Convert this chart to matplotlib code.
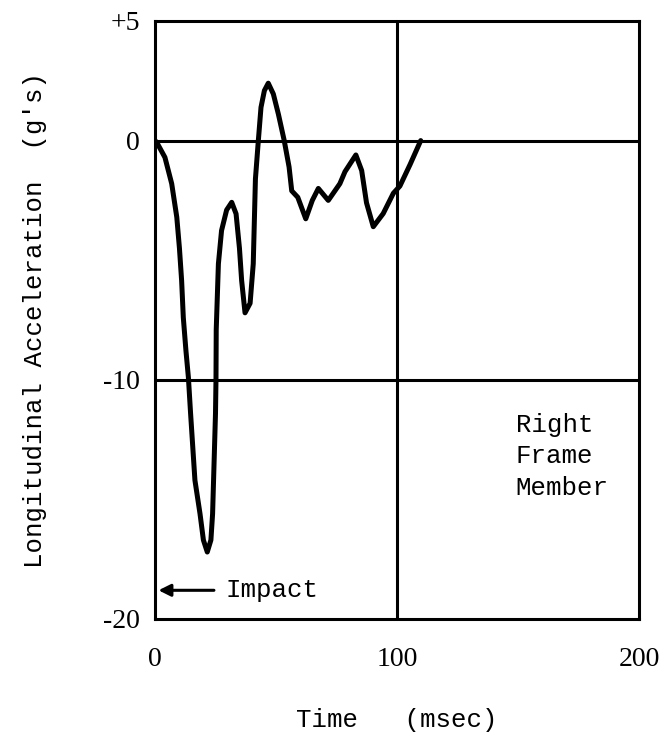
"""Longitudinal acceleration trace, right frame member."""

import matplotlib

matplotlib.use("Agg")
import matplotlib.pyplot as plt

time_ms = [
    0.0, 0.7, 4.1, 6.9, 9.0, 10.1, 11.0, 11.7, 12.8, 13.8, 14.7, 15.6, 16.5,
    18.6, 20.0, 21.6, 23.1, 23.8, 24.4, 25.0, 25.2, 25.3, 26.2, 27.5, 29.6,
    31.7, 33.5, 34.9, 35.8, 37.2, 39.3, 40.6, 41.5, 42.7, 43.8, 45.2, 46.8,
    48.9, 51.0, 53.4, 55.4, 56.5, 59.0, 62.3, 65.0, 67.5, 71.6, 76.4, 78.5,
    83.0, 85.4, 87.4, 90.2, 94.3, 98.5, 101.2, 105.4, 109.8,
]
accel_g = [
    0.0, -0.07, -0.7, -1.8, -3.2, -4.5, -5.85, -7.4, -8.8, -9.9, -11.4,
    -12.8, -14.2, -15.6, -16.7, -17.2, -16.7, -15.6, -13.5, -11.4, -10.0,
    -7.9, -5.15, -3.76, -2.9, -2.58, -3.06, -4.5, -5.85, -7.2, -6.8, -5.15,
    -1.6, 0.0, 1.39, 2.09, 2.4, 1.95, 1.1, 0.0, -1.1, -2.1, -2.37, -3.27,
    -2.5, -2.0, -2.5, -1.8, -1.3, -0.6, -1.25, -2.6, -3.6, -3.05, -2.2,
    -1.9, -1.0, 0.0,
]

x_ticks = [0, 100, 200]
x_tick_labels = ["0", "100", "200"]
y_ticks = [-20, -10, 0, 5]
y_tick_labels = ["-20", "-10", "0", "+5"]
grid_x = [100]
grid_y = [0, -10]

MONO = ["Liberation Mono", "DejaVu Sans Mono"]
SERIF = ["Liberation Serif", "DejaVu Serif"]

fig = plt.figure(figsize=(6.65, 7.38), dpi=100)
ax = fig.add_axes([155 / 665, 1 - 619 / 738, 484 / 665, 598 / 738])

for gx in grid_x:
    ax.axvline(gx, color="black", lw=2.2, zorder=1)
for gy in grid_y:
    ax.axhline(gy, color="black", lw=2.2, zorder=1)

ax.plot(time_ms, accel_g, color="black", lw=3.6, solid_joinstyle="round",
        solid_capstyle="round", zorder=3)

ax.set_xlim(0, 200)
ax.set_ylim(-20, 5)
ax.set_xticks(x_ticks)
ax.set_xticklabels(x_tick_labels, family=SERIF, fontsize=20)
ax.set_yticks(y_ticks)
ax.set_yticklabels(y_tick_labels, family=SERIF, fontsize=20)
ax.tick_params(axis="x", length=0, pad=20)
ax.tick_params(axis="y", length=0, pad=11)
for spine in ax.spines.values():
    spine.set_linewidth(2.2)

ax.set_xlabel("Time   (msec)", family=MONO, fontsize=18.5, labelpad=26)
ax.set_ylabel("Longitudinal Acceleration  (g's)", family=MONO, fontsize=18.5,
              labelpad=40)

ax.annotate("", xy=(0.3, -18.8), xytext=(25.5, -18.8),
            arrowprops=dict(arrowstyle="-|>", color="black", lw=2.2,
                            mutation_scale=18))
ax.text(29, -18.8, "Impact", family=MONO, fontsize=18.5, va="center", ha="left")

ax.text(149, -13.2, "Right\nFrame\nMember", family=MONO, fontsize=18.5,
        va="center", ha="left", linespacing=1.4)

fig.savefig("out.png", dpi=100)
plt.close(fig)
